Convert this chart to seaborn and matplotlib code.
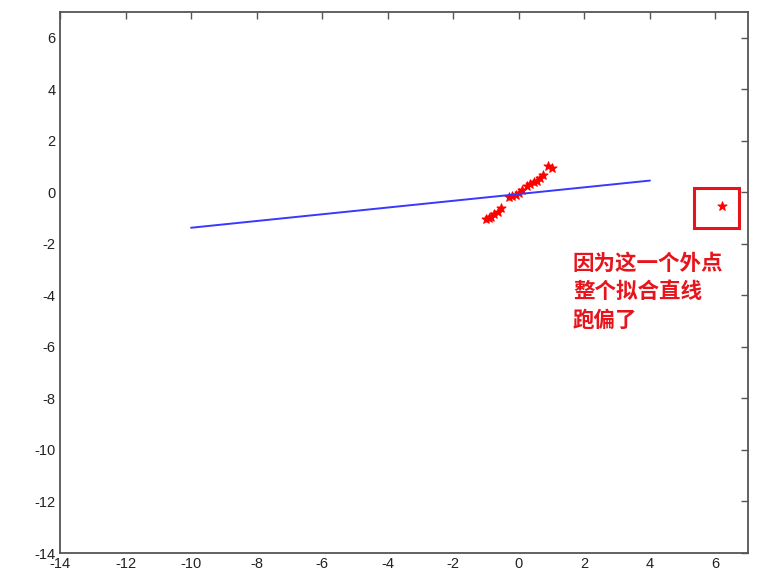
import matplotlib
matplotlib.use("Agg")
import matplotlib.pyplot as plt
import matplotlib.patches as patches
import seaborn as sns
import pandas as pd

# data
pts_x = [-1.0, -0.9, -0.85, -0.75, -0.65, -0.55, -0.3, -0.2, -0.1, 0.0,
         0.1, 0.25, 0.35, 0.45, 0.55, 0.65, 0.75, 0.9, 1.0]
pts_y = [-1.05, -1.0, -0.95, -0.85, -0.75, -0.6, -0.2, -0.15, -0.12, -0.05,
         0.1, 0.25, 0.3, 0.4, 0.45, 0.55, 0.65, 1.0, 0.95]
outlier_x = [6.2]
outlier_y = [-0.52]
fit_x = [-10, 4]
fit_y = [-1.38, 0.45]
ticks = list(range(-14, 7, 2))
note = "因为这一个外点\n整个拟合直线\n跑偏了"

sns.set_style("white")
plt.rcParams['font.family'] = ['Liberation Sans', 'DejaVu Sans']
plt.rcParams['axes.unicode_minus'] = False

fig = plt.figure(figsize=(7.69, 5.88), dpi=100)
ax = fig.add_axes([0.078, 0.0595, 0.895, 0.9205])

pts = pd.DataFrame({"x": pts_x + outlier_x, "y": pts_y + outlier_y})
fit = pd.DataFrame({"x": fit_x, "y": fit_y})

sns.lineplot(data=fit, x="x", y="y", color="#3838ff", linewidth=1.4, ax=ax)
sns.scatterplot(data=pts, x="x", y="y", marker="*", color="red", s=45,
                edgecolor="red", linewidth=0.8, ax=ax)

# box around the outlier
ax.add_patch(patches.Rectangle((5.36, -1.38), 1.37, 1.55, fill=False,
                               edgecolor="#e8141c", linewidth=2.2, zorder=5))
ax.text(1.65, -2.35, note, color="#e8141c", fontsize=15.5, fontweight="bold",
        va="top", ha="left", linespacing=1.45,
        family=['Noto Sans CJK SC', 'DejaVu Sans'])

ax.set_xlim(-14, 7)
ax.set_ylim(-14, 7)
ax.set_xticks(ticks)
ax.set_yticks(ticks)
ax.set_xlabel("")
ax.set_ylabel("")
ax.tick_params(direction="in", length=5, width=1, colors="#555555",
               labelcolor="#222222", labelsize=10.5, top=True, right=True, pad=3)
for sp in ax.spines.values():
    sp.set_color("#555555")
    sp.set_linewidth(1.3)

fig.savefig("out.png", dpi=100)
